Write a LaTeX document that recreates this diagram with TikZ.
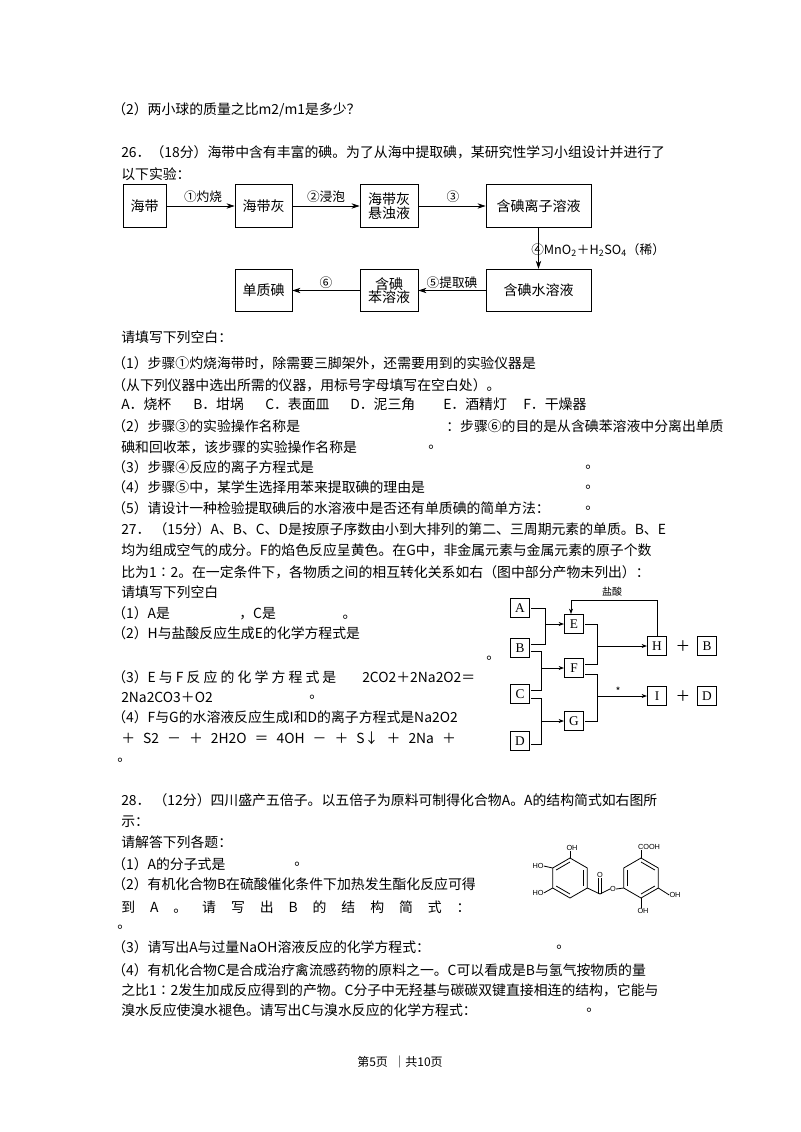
\documentclass[tikz,border=0pt]{standalone}
\usepackage{fontspec}
\setmainfont{Noto Sans CJK SC}
\newfontfamily\lat{Liberation Serif}
\newfontfamily\chem{Liberation Sans}
\usetikzlibrary{arrows.meta,calc}
\begin{document}
\begin{tikzpicture}[x=0.75pt,y=-0.75pt,
  txt/.style={anchor=west,inner sep=0pt,font=\fontsize{10.4}{12}\selectfont},
  fbox/.style={draw,line width=0.6pt,inner sep=0pt,minimum height=32pt,align=center,font=\fontsize{10.5}{12}\selectfont},
  lbl/.style={inner sep=0pt,font=\fontsize{9.5}{11}\selectfont},
  sbox/.style={draw,line width=0.6pt,inner sep=0pt,minimum size=14.5pt,font=\lat\fontsize{10}{11}\selectfont},
  arr/.style={-{Stealth[length=6pt,width=4pt]},line width=0.6pt},
  sarr/.style={-{Stealth[length=4pt,width=3pt]},line width=0.5pt},
  ln/.style={line width=0.5pt},
  bond/.style={line width=0.6pt},
  ctx/.style={inner sep=0pt,font=\chem\fontsize{5.5}{6}\selectfont}]
\useasboundingbox (0,0) rectangle (800,1132);
\fill[white] (0,0) rectangle (800,1132);
% text
\node[txt] (L110) at (112,110) {（2）两小球的质量之比m2/m1是多少？};
\node[txt] (L152) at (121,152) {26．（18分）海带中含有丰富的碘。为了从海中提取碘，某研究性学习小组设计并进行了};
\node[txt] (L174) at (121,174) {以下实验：};
% flowchart
\node[fbox,minimum width=32.3pt] (hd) at (144.5,206) {海带};
\node[fbox,minimum width=42.8pt] (hdh) at (263.5,206) {海带灰};
\node[fbox,minimum width=43.5pt] (xzy) at (389,206) {海带灰\\[-2pt]悬浊液};
\node[fbox,minimum width=78.8pt] (lz) at (538.5,206) {含碘离子溶液};
\node[fbox,minimum width=42.8pt] (dz) at (263.5,290.5) {单质碘};
\node[fbox,minimum width=43.5pt] (bz) at (389,290.5) {含碘\\[-2pt]苯溶液};
\node[fbox,minimum width=78.8pt] (sz) at (538.5,290.5) {含碘水溶液};
\draw[arr] (hd) -- (hdh);
\draw[arr] (hdh) -- (xzy);
\draw[arr] (xzy) -- (lz);
\draw[arr] (lz) -- (sz);
\draw[arr] (sz) -- (bz);
\draw[arr] (bz) -- (dz);
\node[lbl] (s1) at (203,197) {①灼烧};
\node[lbl] (s2) at (326,197) {②浸泡};
\node[lbl] (s3) at (453,197) {③};
\node[lbl] (s6) at (326,283) {⑥};
\node[lbl] (s5) at (452,283) {⑤提取碘};
\node[lbl,anchor=west] (s4) at (531,250) {④MnO\textsubscript{2}＋H\textsubscript{2}SO\textsubscript{4}（稀）};
% 26 questions
\node[txt] (L337) at (121,337) {请填写下列空白：};
\node[txt] (L363) at (112,363) {（1）步骤①灼烧海带时，除需要三脚架外，还需要用到的实验仪器是};
\node[txt] (L385) at (112,385) {（从下列仪器中选出所需的仪器，用标号字母填写在空白处）。};
\node[txt] (La) at (121,404) {A．烧杯};
\node[txt] (Lb) at (193,404) {B．坩埚};
\node[txt] (Lc) at (265,404) {C．表面皿};
\node[txt] (Ld) at (350,404) {D．泥三角};
\node[txt] (Le) at (443,404) {E．酒精灯};
\node[txt] (Lf) at (523,404) {F．干燥器};
\node[txt] (L426) at (112,426) {（2）步骤③的实验操作名称是};
\node[txt] (L426b) at (446,426) {：步骤⑥的目的是从含碘苯溶液中分离出单质};
\node[txt] (L447) at (121,447) {碘和回收苯，该步骤的实验操作名称是};
\node[txt] (L447b) at (428,447) {。};
\node[txt] (L467) at (112,467) {（3）步骤④反应的离子方程式是};
\node[txt] (L467b) at (585,467) {。};
\node[txt] (L487) at (112,487) {（4）步骤⑤中，某学生选择用苯来提取碘的理由是};
\node[txt] (L487b) at (585,487) {。};
\node[txt] (L508) at (112,508) {（5）请设计一种检验提取碘后的水溶液中是否还有单质碘的简单方法：};
\node[txt] (L508b) at (585,508) {。};
% 27
\node[txt] (L528) at (121,529) {27．\ （15分）A、B、C、D是按原子序数由小到大排列的第二、三周期元素的单质。B、E};
\node[txt] (L550) at (121,550) {均为组成空气的成分。F的焰色反应呈黄色。在G中，非金属元素与金属元素的原子个数};
\node[txt] (L572) at (121,572) {比为1∶2。在一定条件下，各物质之间的相互转化关系如右（图中部分产物未列出）：};
\node[txt] (L592) at (121,592) {请填写下列空白};
\node[txt] (L613) at (112,613) {（1）A是\hspace{52pt}，C是\hspace{50pt}。};
\node[txt] (L633) at (112,633) {（2）H与盐酸反应生成E的化学方程式是};
\node[txt] (L658) at (486,658) {。};
\node[txt] (L677) at (112,677) {（3）E 与 F 反 应 的 化 学 方 程 式 是};
\node[txt] (L677b) at (362,677) {2CO2＋2Na2O2＝};
\node[txt] (L697) at (121,697) {2Na2CO3＋O2};
\node[txt] (L697b) at (309,697) {。};
\node[txt] (L717) at (112,717) {（4）F与G的水溶液反应生成I和D的离子方程式是Na2O2};
\node[txt] (L738) at (121,738) {\makebox[251pt][s]{＋ S2 － ＋ 2H2O ＝ 4OH － ＋ S↓ ＋ 2Na ＋}};
\node[txt] (L760) at (117,760) {。};
% 27 diagram
\node[sbox] (A) at (520,608) {A};
\node[sbox] (B) at (520,648) {B};
\node[sbox] (C) at (520,694) {C};
\node[sbox] (D) at (520,741) {D};
\node[sbox] (E) at (574,624) {E};
\node[sbox] (F) at (574,668) {F};
\node[sbox] (G) at (574,721) {G};
\node[sbox] (H) at (657,646) {H};
\node[sbox] (B2) at (707,646) {B};
\node[sbox] (I) at (657,696) {I};
\node[sbox] (D2) at (707,696) {D};
\node[lbl,font=\fontsize{11}{12}\selectfont] (p1) at (683,646) {＋};
\node[lbl,font=\fontsize{11}{12}\selectfont] (p2) at (683,696) {＋};
\coordinate (a1) at (531,608); \coordinate (ja) at (545,644); \coordinate (b1) at (531,644);
\coordinate (j1) at (545,624);
\coordinate (b2) at (531,651); \coordinate (jb) at (541,651); \coordinate (c1) at (531,690);
\coordinate (j2) at (541,668);
\coordinate (c2) at (531,698); \coordinate (jc) at (541,698); \coordinate (d1) at (531,744);
\coordinate (j3) at (541,721);
\coordinate (e1) at (585,624); \coordinate (je) at (597,624); \coordinate (f1) at (585,664);
\coordinate (j4) at (597,646);
\coordinate (f2) at (585,674); \coordinate (jf) at (597,674); \coordinate (g1) at (585,721);
\coordinate (j5) at (597,696);
\coordinate (ht) at (657,600); \coordinate (et) at (571,600);
\draw[ln] (a1) -| (ja) -- (b1);
\draw[sarr] (j1) -- (E.west);
\draw[ln] (b2) -- (jb) |- (c1);
\draw[sarr] (j2) -- (F.west);
\draw[ln] (c2) -- (jc) |- (d1);
\draw[sarr] (j3) -- (G.west);
\draw[ln] (e1) -- (je) |- (f1);
\draw[sarr] (j4) -- (H.west);
\draw[ln] (f2) -- (jf) |- (g1);
\draw[sarr] (j5) -- (I.west);
\draw[sarr] (H.north) -- (ht) -- (et) -- (et |- E.north);
\node[lbl,font=\fontsize{7.5}{8}\selectfont] (yan) at (612,592) {盐酸};
\node[lbl,font=\fontsize{8}{8}\selectfont] (star) at (618,691) {*};
% 28
\node[txt] (L800) at (121,800) {28．\ （12分）四川盛产五倍子。以五倍子为原料可制得化合物A。A的结构简式如右图所};
\node[txt] (L822) at (121,822) {示：};
\node[txt] (L842) at (121,842) {请解答下列各题：};
\node[txt] (L864) at (112,864) {（1）A的分子式是};
\node[txt] (L864b) at (294,864) {。};
\node[txt] (L884) at (112,884) {（2）有机化合物B在硫酸催化条件下加热发生酯化反应可得};
\node[txt] (L907) at (121,907) {\makebox[262pt][s]{到 A 。 请 写 出 B 的 结 构 简 式 ：}};
\node[txt] (L927) at (117,927) {。};
\node[txt] (L947) at (112,947) {（3）请写出A与过量NaOH溶液反应的化学方程式：};
\node[txt] (L947b) at (556,947) {。};
\node[txt] (L970) at (112,970) {（4）有机化合物C是合成治疗禽流感药物的原料之一。C可以看成是B与氢气按物质的量};
\node[txt] (L990) at (121,990) {之比1∶2发生加成反应得到的产物。C分子中无羟基与碳碳双键直接相连的结构，它能与};
\node[txt] (L1010) at (121,1010) {溴水反应使溴水褪色。请写出C与溴水反应的化学方程式：};
\node[txt] (L1010b) at (586,1010) {。};
% structure
\coordinate (lc) at (570,878);
\foreach \i/\a in {0/90,1/30,2/-30,3/-90,4/-150,5/150}{
  \coordinate (l\i) at ($(lc)+({20*cos(\a)},{-20*sin(\a)})$);
  \coordinate (r\i) at ($(lc)+(71,0)+({20*cos(\a)},{-20*sin(\a)})$);}
\coordinate (rc) at (641,878);
\draw[bond] (l0)--(l1)--(l2)--(l3)--(l4)--(l5)--cycle;
\draw[bond] (r0)--(r1)--(r2)--(r3)--(r4)--(r5)--cycle;
\foreach \p/\q in {0/5,1/2,3/4}{
  \draw[bond] ($(lc)!0.8!(l\p)$) -- ($(lc)!0.8!(l\q)$);}
\foreach \p/\q in {0/1,2/3,4/5}{
  \draw[bond] ($(rc)!0.8!(r\p)$) -- ($(rc)!0.8!(r\q)$);}
\node[ctx] (oh1) at (572,848) {OH};
\node[ctx] (ho1) at (538,866) {HO};
\node[ctx] (ho2) at (538,893) {HO};
\node[ctx] (co) at (600,875) {O};
\node[ctx] (eo) at (613,889) {O};
\node[ctx] (cooh) at (649,847) {COOH};
\node[ctx] (oh2) at (675,895) {OH};
\node[ctx] (oh3) at (643,911) {OH};
\coordinate (cc) at (600,894);
\draw[bond] (l0) -- (oh1.south -| l0);
\draw[bond] (l5) -- (ho1.east);
\draw[bond] (l4) -- (ho2.east);
\draw[bond] (l2) -- (cc) -- (eo.west);
\draw[bond] ($(cc)+(-1.5,0)$) -- ($(co.south)+(-1.5,0)$);
\draw[bond] ($(cc)+(1.5,0)$) -- ($(co.south)+(1.5,0)$);
\draw[bond] (eo.east) -- (r4);
\draw[bond] (r0) -- (cooh.south -| r0);
\draw[bond] (r2) -- (oh2.west);
\draw[bond] (r3) -- (oh3.north -| r3);
% footer
\node[inner sep=0pt,font=\fontsize{9}{10}\selectfont] (foot) at (400,1062) {第5页\ \ ｜共10页};
\end{tikzpicture}
\end{document}
